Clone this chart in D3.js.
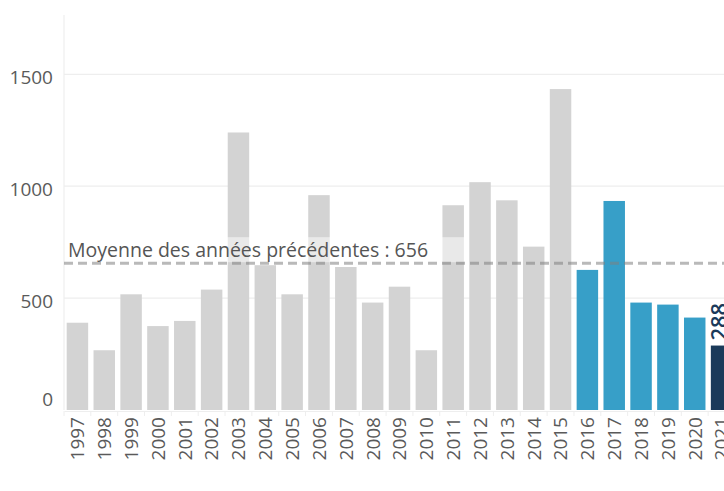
<!DOCTYPE html>
<html>
<head>
<meta charset="utf-8">
<script src="https://cdn.jsdelivr.net/npm/d3@7"></script>
<style>
  html, body { margin: 0; padding: 0; background: #fff; overflow: hidden; }
  svg { display: block; font-family: "Open Sans", sans-serif; }
</style>
</head>
<body>
<svg id="chart" width="724" height="491"></svg>
<script>
// Yearly counts, 1997–2021
const years = ["1997","1998","1999","2000","2001","2002","2003","2004","2005","2006",
  "2007","2008","2009","2010","2011","2012","2013","2014","2015","2016",
  "2017","2018","2019","2020","2021"];
const values = [390, 267, 517, 375, 398, 538, 1240, 647, 517, 960,
  639, 480, 551, 267, 915, 1018, 937, 730, 1434, 626,
  934, 480, 471, 413, 288];
// Highlight groups: older years, recent years, current year
const groups = ["old","old","old","old","old","old","old","old","old","old",
  "old","old","old","old","old","old","old","old","old","recent",
  "recent","recent","recent","recent","current"];
const yTicks = [0, 500, 1000, 1500];
const averageValue = 656;
const averageLabel = "Moyenne des années précédentes : " + averageValue;

const colors = { old: "#d3d3d3", recent: "#379fc8", current: "#1b3a5a" };
const textColor = "#5a5a5a";

const svg = d3.select("#chart");
const plot = { left: 64, right: 735, top: 15, bottom: 410 };

const x = d3.scaleBand()
  .domain(years)
  .range([plot.left, plot.right])
  .paddingInner(0.2)
  .paddingOuter(0.1);

const y = d3.scaleLinear()
  .domain([0, 1765])
  .range([plot.bottom, plot.top]);

// Grid
svg.append("g")
  .selectAll("line")
  .data(yTicks.filter(d => d > 0))
  .join("line")
  .attr("x1", plot.left).attr("x2", 724)
  .attr("y1", d => y(d)).attr("y2", d => y(d))
  .attr("stroke", "#eeeeee").attr("stroke-width", 1.2);

svg.append("line")
  .attr("x1", plot.left).attr("x2", plot.left)
  .attr("y1", plot.top).attr("y2", plot.bottom)
  .attr("stroke", "#eeeeee").attr("stroke-width", 1.2);

// Y axis labels (the zero label sits a little higher, clear of the year labels)
const yAxis = d3.axisLeft(y).tickValues(yTicks).tickFormat(d3.format("d"))
  .tickSize(0).tickPadding(11);
svg.append("g")
  .attr("transform", `translate(${plot.left},0)`)
  .call(yAxis)
  .call(g => g.select(".domain").remove())
  .call(g => g.selectAll("text")
    .attr("fill", textColor)
    .attr("dy", d => d === 0 ? "-0.22em" : "0.5em")
    .style("font-size", "19px")
    .style("font-family", "'Open Sans', sans-serif"));

// X axis
const xAxis = d3.axisBottom(x).tickSize(0).tickPadding(0);
const xg = svg.append("g")
  .attr("transform", `translate(0,${plot.bottom + 1})`)
  .call(xAxis);
xg.select(".domain").attr("stroke", "#eeeeee").attr("stroke-width", 1.2);
xg.selectAll("text")
  .attr("fill", textColor)
  .style("font-size", "19px")
  .style("font-family", "'Open Sans', sans-serif")
  .attr("text-anchor", "end")
  .attr("transform", "rotate(-90)")
  .attr("x", -6)
  .attr("y", 0)
  .attr("dy", "0.36em");

// Small separators between categories
svg.append("g")
  .selectAll("line")
  .data(years)
  .join("line")
  .attr("x1", d => x(d) - x.step() * x.paddingInner() / 2)
  .attr("x2", d => x(d) - x.step() * x.paddingInner() / 2)
  .attr("y1", plot.bottom + 1).attr("y2", plot.bottom + 6)
  .attr("stroke", "#eeeeee").attr("stroke-width", 1);

// Bars
const data = years.map((yr, i) => ({ year: yr, value: values[i], group: groups[i] }));
svg.append("g")
  .selectAll("rect")
  .data(data)
  .join("rect")
  .attr("x", d => x(d.year))
  .attr("width", x.bandwidth())
  .attr("y", d => y(d.value))
  .attr("height", d => y(0) - y(d.value))
  .attr("fill", d => colors[d.group]);

// Value label for the current year
const last = data[data.length - 1];
svg.append("text")
  .attr("transform", `translate(${x(last.year) + x.bandwidth() / 2 - 2},${y(last.value) - 5}) rotate(-90)`)
  .attr("dy", "0.35em")
  .attr("text-anchor", "start")
  .attr("fill", colors.current)
  .style("font-size", "22px")
  .style("font-weight", "600")
  .text(last.value);

// Average label with translucent backing
svg.append("rect")
  .attr("x", plot.left + 1)
  .attr("y", y(averageValue) - 26)
  .attr("width", 402)
  .attr("height", 25)
  .attr("fill", "#ffffff")
  .attr("fill-opacity", 0.5);

svg.append("text")
  .attr("x", 68)
  .attr("y", y(averageValue) - 6)
  .attr("fill", "#555555")
  .style("font-size", "19.5px")
  .text(averageLabel);

// Average line
svg.append("line")
  .attr("x1", plot.left).attr("x2", 724)
  .attr("y1", y(averageValue)).attr("y2", y(averageValue))
  .attr("stroke", "#808080")
  .attr("stroke-opacity", 0.55)
  .attr("stroke-width", 3)
  .attr("stroke-dasharray", "9,5");
</script>
</body>
</html>
